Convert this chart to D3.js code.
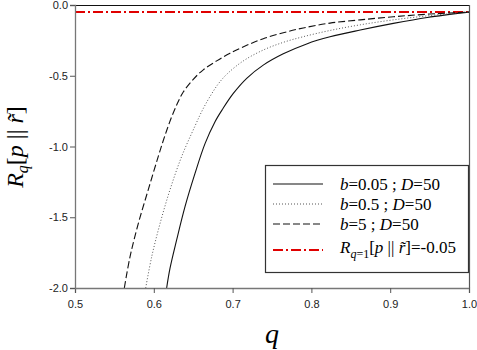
<!DOCTYPE html>
<html>
<head>
<meta charset="utf-8">
<script src="https://cdn.jsdelivr.net/npm/d3@7"></script>
<style>
  body { margin: 0; background: #fff; }
  svg { display: block; }
  .tick text { font-family: "Liberation Sans", Arial, sans-serif; font-size: 11px; fill: #222; }
</style>
</head>
<body>
<svg id="chart" width="477" height="350"></svg>
<script>
// [q, R]
const seriesSolid = [
  [0.6163, -2.0], [0.6206, -1.86], [0.629, -1.66], [0.6396, -1.425], [0.6523, -1.19],
  [0.665, -0.98], [0.6777, -0.825], [0.6874, -0.735], [0.7009, -0.625], [0.7179, -0.518],
  [0.7389, -0.425], [0.7643, -0.345], [0.794, -0.275], [0.8236, -0.225], [0.862, -0.177],
  [0.904, -0.13], [0.947, -0.088], [1.0, -0.05]
];
const seriesDotted = [
  [0.5897, -2.0], [0.5973, -1.78], [0.6079, -1.545], [0.6206, -1.305], [0.6354, -1.07],
  [0.6523, -0.855], [0.6615, -0.745], [0.671, -0.65], [0.6815, -0.56], [0.6925, -0.49],
  [0.7136, -0.395], [0.739, -0.318], [0.7643, -0.264], [0.7897, -0.224], [0.8236, -0.18],
  [0.862, -0.14], [0.904, -0.105], [0.95, -0.075], [1.0, -0.05]
];
const seriesDashed = [
  [0.5626, -2.0], [0.5698, -1.78], [0.5803, -1.545], [0.593, -1.305], [0.6057, -1.07],
  [0.614, -0.925], [0.6227, -0.79], [0.630, -0.695], [0.6374, -0.615], [0.6501, -0.525],
  [0.6628, -0.458], [0.6798, -0.395], [0.6967, -0.341], [0.7179, -0.285], [0.7389, -0.238],
  [0.7643, -0.196], [0.7897, -0.162], [0.8236, -0.128], [0.862, -0.105], [0.904, -0.083],
  [0.95, -0.064], [1.0, -0.05]
];
const refValue = -0.05;
const xTicks = [0.5, 0.6, 0.7, 0.8, 0.9, 1.0];
const yTicks = [0.0, -0.5, -1.0, -1.5, -2.0];

const serif = '"Liberation Serif", "Times New Roman", serif';

const svg = d3.select('#chart');
const plot = { left: 75, right: 469, top: 5, bottom: 288 };

const x = d3.scaleLinear().domain([0.5, 1.0]).range([plot.left, plot.right]);
const y = d3.scaleLinear().domain([-2.0, 0.0]).range([plot.bottom, plot.top]);

svg.append('defs').append('clipPath').attr('id', 'plot-clip')
  .append('rect')
    .attr('x', plot.left).attr('y', plot.top)
    .attr('width', plot.right - plot.left).attr('height', plot.bottom - plot.top);

const line = d3.line()
  .x(d => x(d[0]))
  .y(d => y(d[1]))
  .curve(d3.curveCatmullRom.alpha(0.5));

const styles = {
  solid: { stroke: '#111', width: 1.1, dash: null },
  dotted: { stroke: '#555', width: 1, dash: '1,2' },
  dashed: { stroke: '#111', width: 1.1, dash: '7,3' },
  ref: { stroke: '#e00000', width: 2, dash: '10,3,2,3' },
};

const g = svg.append('g').attr('clip-path', 'url(#plot-clip)');

g.append('line')
  .attr('x1', x(0.5)).attr('x2', x(1.0))
  .attr('y1', y(refValue)).attr('y2', y(refValue))
  .style('stroke', styles.ref.stroke)
  .style('stroke-width', styles.ref.width)
  .style('stroke-dasharray', styles.ref.dash);

[[seriesSolid, styles.solid], [seriesDotted, styles.dotted], [seriesDashed, styles.dashed]]
  .forEach(([data, st]) => {
    g.append('path')
      .datum(data)
      .attr('d', line)
      .style('fill', 'none')
      .style('stroke', st.stroke)
      .style('stroke-width', st.width)
      .style('stroke-dasharray', st.dash);
  });

// frame: top/right
svg.append('line')
  .attr('x1', plot.left).attr('x2', plot.right)
  .attr('y1', plot.top + 0.5).attr('y2', plot.top + 0.5)
  .style('stroke', '#111');
svg.append('line')
  .attr('x1', plot.right + 0.5).attr('x2', plot.right + 0.5)
  .attr('y1', plot.top).attr('y2', plot.bottom)
  .style('stroke', '#555').style('stroke-width', 1.2);

// axes
const xAxis = svg.append('g')
  .attr('transform', `translate(0,${plot.bottom})`)
  .call(d3.axisBottom(x).tickValues(xTicks).tickFormat(d3.format('.1f')).tickSize(5).tickPadding(5));
const yAxis = svg.append('g')
  .attr('transform', `translate(${plot.left},0)`)
  .call(d3.axisLeft(y).tickValues(yTicks).tickFormat(d3.format('.1f')).tickSize(5).tickPadding(2));

[xAxis, yAxis].forEach(ax => {
  ax.select('.domain').style('stroke', '#777').style('stroke-width', 1.3);
  ax.selectAll('.tick line').style('stroke', '#555');
});
yAxis.selectAll('.tick text').text(d => d3.format('.1f')(d).replace('−', '-'));
xAxis.selectAll('.tick text').attr('dy', '0.9em');

// axis titles
svg.append('text')
  .attr('x', 272).attr('y', 343)
  .attr('text-anchor', 'middle')
  .style('font-family', serif)
  .style('font-size', '28px').style('font-style', 'italic')
  .text('q');

const yTitle = svg.append('text')
  .attr('transform', 'translate(23,147) rotate(-90)')
  .attr('text-anchor', 'middle')
  .style('font-family', serif)
  .style('font-size', '24px');
yTitle.append('tspan').style('font-style', 'italic').text('R');
yTitle.append('tspan').style('font-style', 'italic').style('font-size', '16px').attr('dy', 5).text('q');
yTitle.append('tspan').attr('dy', -5).text('[');
yTitle.append('tspan').style('font-style', 'italic').text('p');
yTitle.append('tspan').text(' || ');
yTitle.append('tspan').style('font-style', 'italic').text('r\u0303');
yTitle.append('tspan').text(']');

// legend
const legend = svg.append('g').attr('transform', 'translate(265,165)');
legend.append('rect')
  .attr('x', 0.5).attr('y', 0.5)
  .attr('width', 203).attr('height', 107)
  .style('fill', '#fff').style('stroke', '#333').style('stroke-width', 1.2);

const legendEntries = [
  { st: styles.solid, y: 19, parts: [['b', true], ['=0.05 ; ', false], ['D', true], ['=50', false]] },
  { st: styles.dotted, y: 39, parts: [['b', true], ['=0.5 ; ', false], ['D', true], ['=50', false]] },
  { st: styles.dashed, y: 59, parts: [['b', true], ['=5 ; ', false], ['D', true], ['=50', false]] },
];

legendEntries.forEach(e => {
  legend.append('line')
    .attr('x1', 8).attr('x2', 58)
    .attr('y1', e.y).attr('y2', e.y)
    .style('stroke', e.st.stroke)
    .style('stroke-width', e.st.width)
    .style('stroke-dasharray', e.st.dash);
  const t = legend.append('text')
    .attr('x', 75).attr('y', e.y + 6)
    .style('font-family', serif)
    .style('font-size', '17px');
  e.parts.forEach(([s, it]) => t.append('tspan').style('font-style', it ? 'italic' : 'normal').text(s));
});

legend.append('line')
  .attr('x1', 8).attr('x2', 58)
  .attr('y1', 85).attr('y2', 85)
  .style('stroke', styles.ref.stroke)
  .style('stroke-width', styles.ref.width)
  .style('stroke-dasharray', styles.ref.dash);
const rt = legend.append('text')
  .attr('x', 75).attr('y', 88)
  .style('font-family', serif)
  .style('font-size', '17px');
rt.append('tspan').style('font-style', 'italic').text('R');
rt.append('tspan').style('font-style', 'italic').style('font-size', '12px').attr('dy', 5).text('q');
rt.append('tspan').style('font-size', '12px').text('=1');
rt.append('tspan').attr('dy', -5).text('[');
rt.append('tspan').style('font-style', 'italic').text('p');
rt.append('tspan').text(' || ');
rt.append('tspan').style('font-style', 'italic').text('r\u0303');
rt.append('tspan').text(']=-0.05');
</script>
</body>
</html>
